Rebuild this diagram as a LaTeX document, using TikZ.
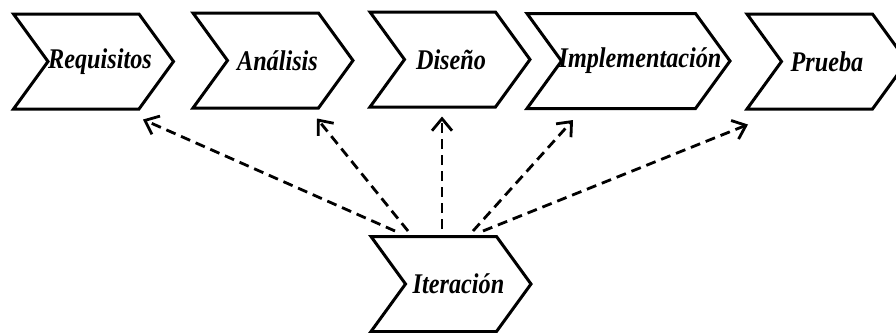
\documentclass[tikz,border=0pt]{standalone}
\usepackage{fontspec}
\setmainfont{Liberation Serif}
\newfontfamily\chevfont[FakeStretch=0.85]{Liberation Serif}
\usetikzlibrary{arrows.meta,positioning,shapes.symbols}

% text of a phase, shifted right by half of #1
\newcommand{\phasetext}[2]{\makebox[0pt]{\hspace*{#1}#2}}

\begin{document}
\begin{tikzpicture}[
  x=1pt, y=-1pt,
  chev/.style={signal, signal to=east, signal from=west, draw, line width=3pt,
    minimum height=95pt, minimum width=160pt, signal pointer angle=108,
    inner sep=0pt, font=\chevfont\fontsize{28.5}{32}\selectfont\bfseries\itshape},
  dasharrow/.style={line width=2.8pt, dash pattern=on 10pt off 6pt,
    -{Straight Barb[length=12pt,width=20pt]}}
]
\useasboundingbox (0,0) rectangle (896,332);

% Phases
\node[chev] (req) at (93.5,61.5) {\phasetext{13pt}{Requisitos}};
\node[chev] (ana) at (273,60.5) {\phasetext{9pt}{Análisis}};
\node[chev] (dis) at (450,59.5) {\phasetext{2pt}{Diseño}};
\node[chev, minimum width=203pt] (imp) at (628.5,61) {\phasetext{23pt}{Implementación}};
\node[chev] (pru) at (827,61.5) {\phasetext{0pt}{Prueba}};

% Iteration
\node[chev] (ite) at (451,284) {\phasetext{15pt}{Iteración}};

\draw[dasharrow] ([xshift=-56pt,yshift=4pt]ite.north) -- ([xshift=49.5pt,yshift=-9pt]req.south);
\draw[dasharrow] ([xshift=-43pt,yshift=4pt]ite.north) -- ([xshift=44pt,yshift=-9pt]ana.south);
\draw[dasharrow] ([xshift=-9pt,yshift=6pt]ite.north) -- ([xshift=-8pt,yshift=-8pt]dis.south);
\draw[dasharrow] ([xshift=22pt,yshift=4pt]ite.north) -- ([xshift=-55.5pt,yshift=-10pt]imp.south);
\draw[dasharrow] ([xshift=32pt,yshift=4pt]ite.north) -- ([xshift=-79pt,yshift=-14pt]pru.south);
\end{tikzpicture}
\end{document}
